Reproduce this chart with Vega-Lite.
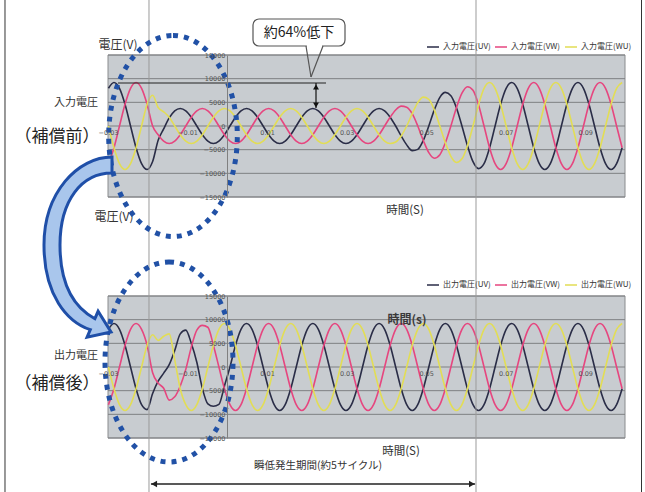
{
"$schema":"https://vega.github.io/schema/vega-lite/v6.json",
"width":645,"height":492,"padding":0,"autosize":{"type":"none"},
"background":"#ffffff",
"config":{"view":{"stroke":null},"font":"Noto Sans CJK JP"},
"datasets":{"w":[
{"t":-0.029889,"a":7967,"b":-7967,"c":0,"d":7967,"e":-7967,"f":0},
{"t":-0.0285,"a":9200,"b":-4600,"c":-4600,"d":9200,"e":-4600,"f":-4600},
{"t":-0.027111,"a":7967,"b":0,"c":-7967,"d":7967,"e":0,"f":-7967},
{"t":-0.025722,"a":4600,"b":4600,"c":-9200,"d":4600,"e":4600,"f":-9200},
{"t":-0.024333,"a":0,"b":7967,"c":-7967,"d":0,"e":7967,"f":-7967},
{"t":-0.022944,"a":-4600,"b":9200,"c":-4600,"d":-4600,"e":9200,"f":-4600},
{"t":-0.021556,"a":-7967,"b":7967,"c":0,"d":-7967,"e":7967,"f":0},
{"t":-0.020167,"a":-9200,"b":4600,"c":4600,"d":-9000,"e":4600,"f":4600},
{"t":-0.018778,"a":-7500,"b":0,"c":6500,"d":-5600,"e":-1200,"f":6800},
{"t":-0.017389,"a":-3000,"b":-1850,"c":3900,"d":-3000,"e":-3400,"f":5600},
{"t":-0.016,"a":-600,"b":-3204,"c":3000,"d":-1300,"e":-4500,"f":6500},
{"t":-0.014611,"a":1700,"b":-3700,"c":1850,"d":500,"e":-7000,"f":7000},
{"t":-0.013222,"a":3204,"b":-3204,"c":0,"d":3500,"e":-6300,"f":1500},
{"t":-0.011833,"a":3700,"b":-1850,"c":-1850,"d":7000,"e":-4000,"f":-4600},
{"t":-0.010444,"a":3204,"b":0,"c":-3204,"d":7800,"e":-500,"f":-7967},
{"t":-0.009056,"a":1850,"b":1850,"c":-3700,"d":5000,"e":4200,"f":-9200},
{"t":-0.007667,"a":0,"b":3204,"c":-3204,"d":1000,"e":7800,"f":-7967},
{"t":-0.006278,"a":-1850,"b":3700,"c":-1850,"d":-4500,"e":8800,"f":-4600},
{"t":-0.004889,"a":-3204,"b":3204,"c":0,"d":-7800,"e":8400,"f":0},
{"t":-0.0035,"a":-3700,"b":1850,"c":1850,"d":-8300,"e":4600,"f":4600},
{"t":-0.002111,"a":-3204,"b":0,"c":3204,"d":-7900,"e":0,"f":7967},
{"t":-0.000722,"a":-1850,"b":-1850,"c":3700,"d":-4000,"e":-4600,"f":9200},
{"t":0.000667,"a":0,"b":-3204,"c":3204,"d":0,"e":-7967,"f":7967},
{"t":0.002056,"a":1850,"b":-3700,"c":1850,"d":4600,"e":-9200,"f":4600},
{"t":0.003444,"a":3204,"b":-3204,"c":0,"d":7967,"e":-7967,"f":0},
{"t":0.004833,"a":3700,"b":-1850,"c":-1850,"d":9200,"e":-4600,"f":-4600},
{"t":0.006222,"a":3204,"b":0,"c":-3204,"d":7967,"e":0,"f":-7967},
{"t":0.007611,"a":1850,"b":1850,"c":-3700,"d":4600,"e":4600,"f":-9200},
{"t":0.009,"a":0,"b":3204,"c":-3204,"d":0,"e":7967,"f":-7967},
{"t":0.010389,"a":-1850,"b":3700,"c":-1850,"d":-4600,"e":9200,"f":-4600},
{"t":0.011778,"a":-3204,"b":3204,"c":0,"d":-7967,"e":7967,"f":0},
{"t":0.013167,"a":-3700,"b":1850,"c":1850,"d":-9200,"e":4600,"f":4600},
{"t":0.014556,"a":-3204,"b":0,"c":3204,"d":-7967,"e":0,"f":7967},
{"t":0.015944,"a":-1850,"b":-1850,"c":3700,"d":-4600,"e":-4600,"f":9200},
{"t":0.017333,"a":0,"b":-3204,"c":3204,"d":0,"e":-7967,"f":7967},
{"t":0.018722,"a":1850,"b":-3700,"c":1850,"d":4600,"e":-9200,"f":4600},
{"t":0.020111,"a":3204,"b":-3204,"c":0,"d":7967,"e":-7967,"f":0},
{"t":0.0215,"a":3700,"b":-1850,"c":-1850,"d":9200,"e":-4600,"f":-4600},
{"t":0.022889,"a":3204,"b":0,"c":-3204,"d":7967,"e":0,"f":-7967},
{"t":0.024278,"a":1850,"b":1850,"c":-3700,"d":4600,"e":4600,"f":-9200},
{"t":0.025667,"a":0,"b":3204,"c":-3204,"d":0,"e":7967,"f":-7967},
{"t":0.027056,"a":-1850,"b":3700,"c":-1850,"d":-4600,"e":9200,"f":-4600},
{"t":0.028444,"a":-3204,"b":3204,"c":0,"d":-7967,"e":7967,"f":0},
{"t":0.029833,"a":-3700,"b":1850,"c":1850,"d":-9200,"e":4600,"f":4600},
{"t":0.031222,"a":-3204,"b":0,"c":3204,"d":-7967,"e":0,"f":7967},
{"t":0.032611,"a":-1850,"b":-1850,"c":3700,"d":-4600,"e":-4600,"f":9200},
{"t":0.034,"a":0,"b":-3204,"c":3204,"d":0,"e":-7967,"f":7967},
{"t":0.035389,"a":1850,"b":-3700,"c":1850,"d":4600,"e":-9200,"f":4600},
{"t":0.036778,"a":3204,"b":-3204,"c":0,"d":7967,"e":-7967,"f":0},
{"t":0.038167,"a":3700,"b":-1850,"c":-1850,"d":9200,"e":-4600,"f":-4600},
{"t":0.039556,"a":3204,"b":0,"c":-3204,"d":7967,"e":0,"f":-7967},
{"t":0.040944,"a":1850,"b":1850,"c":-3700,"d":4600,"e":4600,"f":-9200},
{"t":0.042333,"a":0,"b":3377,"c":-3377,"d":0,"e":7967,"f":-7967},
{"t":0.043722,"a":-2100,"b":4200,"c":-2100,"d":-4600,"e":9200,"f":-4600},
{"t":0.045111,"a":-3984,"b":3984,"c":0,"d":-7967,"e":7967,"f":0},
{"t":0.0465,"a":-5200,"b":2600,"c":2600,"d":-9200,"e":4600,"f":4600},
{"t":0.047889,"a":-4936,"b":0,"c":4936,"d":-7967,"e":0,"f":7967},
{"t":0.049278,"a":-3050,"b":-3050,"c":6100,"d":-4600,"e":-4600,"f":9200},
{"t":0.050667,"a":0,"b":-5629,"c":5629,"d":0,"e":-7967,"f":7967},
{"t":0.052056,"a":3400,"b":-6800,"c":3400,"d":4600,"e":-9200,"f":4600},
{"t":0.053444,"a":6062,"b":-6062,"c":0,"d":7967,"e":-7967,"f":0},
{"t":0.054833,"a":7100,"b":-3550,"c":-3550,"d":9200,"e":-4600,"f":-4600},
{"t":0.056222,"a":6408,"b":0,"c":-6408,"d":7967,"e":0,"f":-7967},
{"t":0.057611,"a":3850,"b":3850,"c":-7700,"d":4600,"e":4600,"f":-9200},
{"t":0.059,"a":0,"b":6928,"c":-6928,"d":0,"e":7967,"f":-7967},
{"t":0.060389,"a":-4150,"b":8300,"c":-4150,"d":-4600,"e":9200,"f":-4600},
{"t":0.061778,"a":-7534,"b":7534,"c":0,"d":-7967,"e":7967,"f":0},
{"t":0.063167,"a":-9000,"b":4500,"c":4500,"d":-9200,"e":4600,"f":4600},
{"t":0.064556,"a":-7967,"b":0,"c":7967,"d":-7967,"e":0,"f":7967},
{"t":0.065944,"a":-4600,"b":-4600,"c":9200,"d":-4600,"e":-4600,"f":9200},
{"t":0.067333,"a":0,"b":-7967,"c":7967,"d":0,"e":-7967,"f":7967},
{"t":0.068722,"a":4600,"b":-9200,"c":4600,"d":4600,"e":-9200,"f":4600},
{"t":0.070111,"a":7967,"b":-7967,"c":0,"d":7967,"e":-7967,"f":0},
{"t":0.0715,"a":9200,"b":-4600,"c":-4600,"d":9200,"e":-4600,"f":-4600},
{"t":0.072889,"a":7967,"b":0,"c":-7967,"d":7967,"e":0,"f":-7967},
{"t":0.074278,"a":4600,"b":4600,"c":-9200,"d":4600,"e":4600,"f":-9200},
{"t":0.075667,"a":0,"b":7967,"c":-7967,"d":0,"e":7967,"f":-7967},
{"t":0.077056,"a":-4600,"b":9200,"c":-4600,"d":-4600,"e":9200,"f":-4600},
{"t":0.078444,"a":-7967,"b":7967,"c":0,"d":-7967,"e":7967,"f":0},
{"t":0.079833,"a":-9200,"b":4600,"c":4600,"d":-9200,"e":4600,"f":4600},
{"t":0.081222,"a":-7967,"b":0,"c":7967,"d":-7967,"e":0,"f":7967},
{"t":0.082611,"a":-4600,"b":-4600,"c":9200,"d":-4600,"e":-4600,"f":9200},
{"t":0.084,"a":0,"b":-7967,"c":7967,"d":0,"e":-7967,"f":7967},
{"t":0.085389,"a":4600,"b":-9200,"c":4600,"d":4600,"e":-9200,"f":4600},
{"t":0.086778,"a":7967,"b":-7967,"c":0,"d":7967,"e":-7967,"f":0},
{"t":0.088167,"a":9200,"b":-4600,"c":-4600,"d":9200,"e":-4600,"f":-4600},
{"t":0.089556,"a":7967,"b":0,"c":-7967,"d":7967,"e":0,"f":-7967},
{"t":0.090944,"a":4600,"b":4600,"c":-9200,"d":4600,"e":4600,"f":-9200},
{"t":0.092333,"a":0,"b":7967,"c":-7967,"d":0,"e":7967,"f":-7967},
{"t":0.093722,"a":-4600,"b":9200,"c":-4600,"d":-4600,"e":9200,"f":-4600},
{"t":0.095111,"a":-7967,"b":7967,"c":0,"d":-7967,"e":7967,"f":0},
{"t":0.0965,"a":-9200,"b":4600,"c":4600,"d":-9200,"e":4600,"f":4600},
{"t":0.097889,"a":-7967,"b":0,"c":7967,"d":-7967,"e":0,"f":7967},
{"t":0.099278,"a":-4600,"b":-4600,"c":9200,"d":-4600,"e":-4600,"f":9200}
]},
"layer":[
{"layer":[
 {"data":{"values":[{}]},"mark":{"type":"rect","fill":"#c8ccd0","stroke":"#8a8c8e","strokeWidth":1},
  "encoding":{"x":{"datum":-0.03,"type":"quantitative","scale":{"domain":[-0.057157,0.105029],"nice":false,"zero":false}},"x2":{"datum":0.1},
   "y":{"datum":-15000,"type":"quantitative","scale":{"domain":[-15000,15000],"range":[197,55],"nice":false,"zero":false}},"y2":{"datum":15000}}},
 {"data":{"values":[{"g":-15000},{"g":-10000},{"g":-5000},{"g":0},{"g":5000},{"g":10000},{"g":15000}]},
  "mark":{"type":"rule","color":"#7e8083","strokeWidth":1},
  "encoding":{"x":{"datum":-0.03,"type":"quantitative"},"x2":{"datum":0.1},"y":{"field":"g","type":"quantitative"}}},
 {"data":{"name":"w"},"transform":[{"fold":["a","b","c"],"as":["k","v"]}],
  "mark":{"type":"line","interpolate":"monotone","strokeWidth":1.6},
  "encoding":{
   "x":{"field":"t","type":"quantitative","scale":{"domain":[-0.057157,0.105029],"nice":false,"zero":false},
    "axis":{"orient":"bottom","offset":-366,"values":[-0.03,-0.01,0.01,0.03,0.05,0.07,0.09],"format":".2f","domain":false,"ticks":false,"grid":false,"labelFont":"DejaVu Sans","labelFontSize":6.5,"labelColor":"#555555","labelPadding":3,"title":null,"labelFlush":false,"labelOverlap":false,"zindex":1}},
   "y":{"field":"v","type":"quantitative","scale":{"domain":[-15000,15000],"range":[197,55],"nice":false,"zero":false},
    "axis":{"orient":"left","offset":-227,"values":[-15000,-10000,-5000,0,5000,10000,15000],"format":"d","domain":true,"domainColor":"#808080","domainWidth":1,"ticks":false,"grid":false,"labelFont":"DejaVu Sans","labelFontSize":6.5,"labelColor":"#555555","labelPadding":2,"title":null,"labelFlush":false,"labelOverlap":false,"zindex":1}},
   "color":{"field":"k","type":"nominal","scale":{"domain":["a","b","c"],"range":["#2a2d47","#e6467f","#e2dd55"]},
    "legend":{"orient":"none","legendX":426,"legendY":40,"direction":"horizontal","title":null,"symbolType":"stroke","symbolSize":144,"symbolStrokeWidth":1.5,"labelFontSize":8,"labelFont":"Noto Sans CJK JP","labelColor":"#333333","columnPadding":1,"labelOffset":3,"padding":0,
     "labelExpr":"datum.label == 'a' ? '入力電圧(UV)' : datum.label == 'b' ? '入力電圧(VW)' : '入力電圧(WU)'"}}}}
]},
{"layer":[
 {"data":{"values":[{}]},"mark":{"type":"rect","fill":"#c8ccd0","stroke":"#8a8c8e","strokeWidth":1},
  "encoding":{"x":{"datum":-0.03,"type":"quantitative","scale":{"domain":[-0.057157,0.105029],"nice":false,"zero":false}},"x2":{"datum":0.1},
   "y":{"datum":-15000,"type":"quantitative","scale":{"domain":[-15000,15000],"range":[438,296],"nice":false,"zero":false}},"y2":{"datum":15000}}},
 {"data":{"values":[{"g":-15000},{"g":-10000},{"g":-5000},{"g":0},{"g":5000},{"g":10000},{"g":15000}]},
  "mark":{"type":"rule","color":"#7e8083","strokeWidth":1},
  "encoding":{"x":{"datum":-0.03,"type":"quantitative"},"x2":{"datum":0.1},"y":{"field":"g","type":"quantitative"}}},
 {"data":{"name":"w"},"transform":[{"fold":["d","e","f"],"as":["k","v"]}],
  "mark":{"type":"line","interpolate":"monotone","strokeWidth":1.6},
  "encoding":{
   "x":{"field":"t","type":"quantitative","scale":{"domain":[-0.057157,0.105029],"nice":false,"zero":false},
    "axis":{"orient":"bottom","offset":-125,"values":[-0.03,-0.01,0.01,0.03,0.05,0.07,0.09],"format":".2f","domain":false,"ticks":false,"grid":false,"labelFont":"DejaVu Sans","labelFontSize":6.5,"labelColor":"#555555","labelPadding":3,"title":null,"labelFlush":false,"labelOverlap":false,"zindex":1}},
   "y":{"field":"v","type":"quantitative","scale":{"domain":[-15000,15000],"range":[438,296],"nice":false,"zero":false},
    "axis":{"orient":"left","offset":-227,"values":[-15000,-10000,-5000,0,5000,10000,15000],"format":"d","domain":true,"domainColor":"#808080","domainWidth":1,"ticks":false,"grid":false,"labelFont":"DejaVu Sans","labelFontSize":6.5,"labelColor":"#555555","labelPadding":2,"title":null,"labelFlush":false,"labelOverlap":false,"zindex":1}},
   "color":{"field":"k","type":"nominal","scale":{"domain":["d","e","f"],"range":["#2a2d47","#e6467f","#e2dd55"]},
    "legend":{"orient":"none","legendX":426,"legendY":278,"direction":"horizontal","title":null,"symbolType":"stroke","symbolSize":144,"symbolStrokeWidth":1.5,"labelFontSize":8,"labelFont":"Noto Sans CJK JP","labelColor":"#333333","columnPadding":1,"labelOffset":3,"padding":0,
     "labelExpr":"datum.label == 'd' ? '出力電圧(UV)' : datum.label == 'e' ? '出力電圧(VW)' : '出力電圧(WU)'"}}}},
 {"data":{"values":[{}]},"mark":{"type":"text","text":"時間(s)","font":"Noto Sans CJK JP","fontSize":12,"fontWeight":"bold","color":"#3a3a3a","align":"center","baseline":"middle"},
  "encoding":{"x":{"datum":0.045185,"type":"quantitative"},"y":{"datum":9930,"type":"quantitative"}}}
]},
{"layer":[
 {"data":{"values":[{"t":-0.019691},{"t":0.062536}]},"mark":{"type":"rule","color":"#9b9b9b","strokeWidth":1},
  "encoding":{"x":{"field":"t","type":"quantitative","scale":{"domain":[-0.057157,0.105029],"nice":false,"zero":false},"axis":null},
   "y":{"datum":26620,"type":"quantitative","scale":{"domain":[-15000,15000],"range":[197,55],"nice":false,"zero":false},"axis":null},"y2":{"datum":-77324}}},
 {"data":{"values":[{"t":-0.0559},{"t":0.10415}]},"mark":{"type":"rule","color":"#333333","strokeWidth":1},
  "encoding":{"x":{"field":"t","type":"quantitative","axis":null},"y":{"datum":26620,"type":"quantitative","axis":null},"y2":{"datum":-77324}}},
 {"data":{"values":[{}]},"mark":{"type":"rule","color":"#222222","strokeWidth":1.3},
  "encoding":{"x":{"datum":-0.0192,"type":"quantitative","axis":null},"x2":{"datum":0.0623},"y":{"datum":-75634,"type":"quantitative","axis":null}}},
 {"data":{"values":[{}]},"mark":{"type":"point","shape":"triangle-left","filled":true,"color":"#222222","size":45,"opacity":1},
  "encoding":{"x":{"datum":-0.0184,"type":"quantitative","axis":null},"y":{"datum":-75634,"type":"quantitative","axis":null}}},
 {"data":{"values":[{}]},"mark":{"type":"point","shape":"triangle-right","filled":true,"color":"#222222","size":45,"opacity":1},
  "encoding":{"x":{"datum":0.0615,"type":"quantitative","axis":null},"y":{"datum":-75634,"type":"quantitative","axis":null}}},
 {"data":{"values":[{}]},"mark":{"type":"rule","color":"#222222","strokeWidth":1.2},
  "encoding":{"x":{"datum":-0.027486,"type":"quantitative","axis":null},"x2":{"datum":0.024816},"y":{"datum":9084,"type":"quantitative","axis":null}}},
 {"data":{"values":[{}]},"mark":{"type":"rule","color":"#111111","strokeWidth":1.2},
  "encoding":{"x":{"datum":0.022302,"type":"quantitative","axis":null},"y":{"datum":9084,"type":"quantitative","axis":null},"y2":{"datum":3803}}},
 {"data":{"values":[{}]},"mark":{"type":"point","shape":"triangle-up","filled":true,"color":"#111111","size":35,"opacity":1},
  "encoding":{"x":{"datum":0.022302,"type":"quantitative","axis":null},"y":{"datum":8239,"type":"quantitative","axis":null}}},
 {"data":{"values":[{}]},"mark":{"type":"point","shape":"triangle-down","filled":true,"color":"#111111","size":35,"opacity":1},
  "encoding":{"x":{"datum":0.022302,"type":"quantitative","axis":null},"y":{"datum":4437,"type":"quantitative","axis":null}}},
 {"data":{"values":[{}]},"mark":{"type":"rect","fill":"#ffffff","stroke":"#555555","strokeWidth":1.2,"cornerRadius":6},
  "encoding":{"x":{"datum":0.00646,"type":"quantitative","axis":null},"x2":{"datum":0.029594},"y":{"datum":22606,"type":"quantitative","axis":null},"y2":{"datum":16901}}},
 {"data":{"values":[{}]},"mark":{"type":"rule","color":"#ffffff","strokeWidth":2.5},
  "encoding":{"x":{"datum":0.020,"type":"quantitative","axis":null},"x2":{"datum":0.02385},"y":{"datum":16901,"type":"quantitative","axis":null}}},
 {"data":{"values":[{}]},"mark":{"type":"rule","color":"#555555","strokeWidth":1.2},
  "encoding":{"x":{"datum":0.019787,"type":"quantitative","axis":null},"x2":{"datum":0.021045},"y":{"datum":16901,"type":"quantitative","axis":null},"y2":{"datum":10352}}},
 {"data":{"values":[{}]},"mark":{"type":"rule","color":"#555555","strokeWidth":1.2},
  "encoding":{"x":{"datum":0.024062,"type":"quantitative","axis":null},"x2":{"datum":0.021045},"y":{"datum":16901,"type":"quantitative","axis":null},"y2":{"datum":10352}}},
 {"data":{"values":[{}]},"mark":{"type":"text","text":"約64%低下","fontSize":14,"color":"#222222","align":"center","baseline":"middle"},
  "encoding":{"x":{"datum":0.018027,"type":"quantitative","axis":null},"y":{"datum":19648,"type":"quantitative","axis":null}}},
 {"data":{"values":[{}]},"mark":{"type":"text","text":"電圧(V)","fontSize":12,"color":"#333333","align":"center","baseline":"middle"},
  "encoding":{"x":{"datum":-0.027486,"type":"quantitative","axis":null},"y":{"datum":17113,"type":"quantitative","axis":null}}},
 {"data":{"values":[{}]},"mark":{"type":"text","text":"入力電圧","fontSize":11,"color":"#333333","align":"center","baseline":"middle"},
  "encoding":{"x":{"datum":-0.038047,"type":"quantitative","axis":null},"y":{"datum":4859,"type":"quantitative","axis":null}}},
 {"data":{"values":[{}]},"mark":{"type":"text","text":"（補償前）","fontSize":17,"color":"#222222","align":"center","baseline":"middle"},
  "encoding":{"x":{"datum":-0.042825,"type":"quantitative","axis":null},"y":{"datum":-2324,"type":"quantitative","axis":null}}},
 {"data":{"values":[{}]},"mark":{"type":"text","text":"電圧(V)","fontSize":12,"color":"#333333","align":"center","baseline":"middle"},
  "encoding":{"x":{"datum":-0.028491,"type":"quantitative","axis":null},"y":{"datum":-19225,"type":"quantitative","axis":null}}},
 {"data":{"values":[{}]},"mark":{"type":"text","text":"時間(S)","fontSize":11.5,"color":"#333333","align":"center","baseline":"middle"},
  "encoding":{"x":{"datum":0.044681,"type":"quantitative","axis":null},"y":{"datum":-17958,"type":"quantitative","axis":null}}},
 {"data":{"values":[{}]},"mark":{"type":"text","text":"出力電圧","fontSize":11,"color":"#333333","align":"center","baseline":"middle"},
  "encoding":{"x":{"datum":-0.038047,"type":"quantitative","axis":null},"y":{"datum":-48592,"type":"quantitative","axis":null}}},
 {"data":{"values":[{}]},"mark":{"type":"text","text":"（補償後）","fontSize":17,"color":"#222222","align":"center","baseline":"middle"},
  "encoding":{"x":{"datum":-0.042825,"type":"quantitative","axis":null},"y":{"datum":-54508,"type":"quantitative","axis":null}}},
 {"data":{"values":[{}]},"mark":{"type":"text","text":"時間(S)","fontSize":11.5,"color":"#333333","align":"center","baseline":"middle"},
  "encoding":{"x":{"datum":0.043675,"type":"quantitative","axis":null},"y":{"datum":-68874,"type":"quantitative","axis":null}}},
 {"data":{"values":[{}]},"mark":{"type":"text","text":"瞬低発生期間(約5サイクル)","fontSize":10.5,"color":"#333333","align":"center","baseline":"middle"},
  "encoding":{"x":{"datum":0.022805,"type":"quantitative","axis":null},"y":{"datum":-71831,"type":"quantitative","axis":null}}},
 {"data":{"values":[{}]},"mark":{"type":"point","shape":"M0,-1C0.353,-1,0.64,-0.552,0.64,0C0.64,0.552,0.353,1,0,1C-0.353,1,-0.64,0.552,-0.64,0C-0.64,-0.552,-0.353,-1,0,-1Z","size":40400,"filled":false,"stroke":"#2151a6","strokeWidth":5,"strokeDash":[5,6],"opacity":1},
  "encoding":{"x":{"datum":-0.013656,"type":"quantitative","axis":null},"y":{"datum":-2113,"type":"quantitative","axis":null}}},
 {"data":{"values":[{}]},"mark":{"type":"point","shape":"M0,-1C0.353,-1,0.64,-0.552,0.64,0C0.64,0.552,0.353,1,0,1C-0.353,1,-0.64,0.552,-0.64,0C-0.64,-0.552,-0.353,-1,0,-1Z","size":40000,"filled":false,"stroke":"#2151a6","strokeWidth":5,"strokeDash":[5,6],"opacity":1},
  "encoding":{"x":{"datum":-0.014662,"type":"quantitative","axis":null},"y":{"datum":-49860,"type":"quantitative","axis":null}}},
 {"data":{"values":[{}]},"mark":{"type":"point","shape":"M0.34,-0.88C0,-0.88,-0.34,-0.53,-0.34,0C-0.34,0.5,-0.11,0.77,0.123,0.847L0.091,0.921L0.33,0.87L0.201,0.663L0.169,0.737C-0.01,0.64,-0.18,0.43,-0.18,0C-0.18,-0.45,0.04,-0.72,0.34,-0.72Z","size":40000,"filled":true,"fill":"#a9c6ec","stroke":"#1f4fa8","strokeWidth":3,"opacity":1},
  "encoding":{"x":{"datum":-0.037544,"type":"quantitative","axis":null},"y":{"datum":-25141,"type":"quantitative","axis":null}}}
]}
],
"resolve":{"scale":{"y":"independent","color":"independent"},"axis":{"x":"independent","y":"independent"},"legend":{"color":"independent"}}
}
